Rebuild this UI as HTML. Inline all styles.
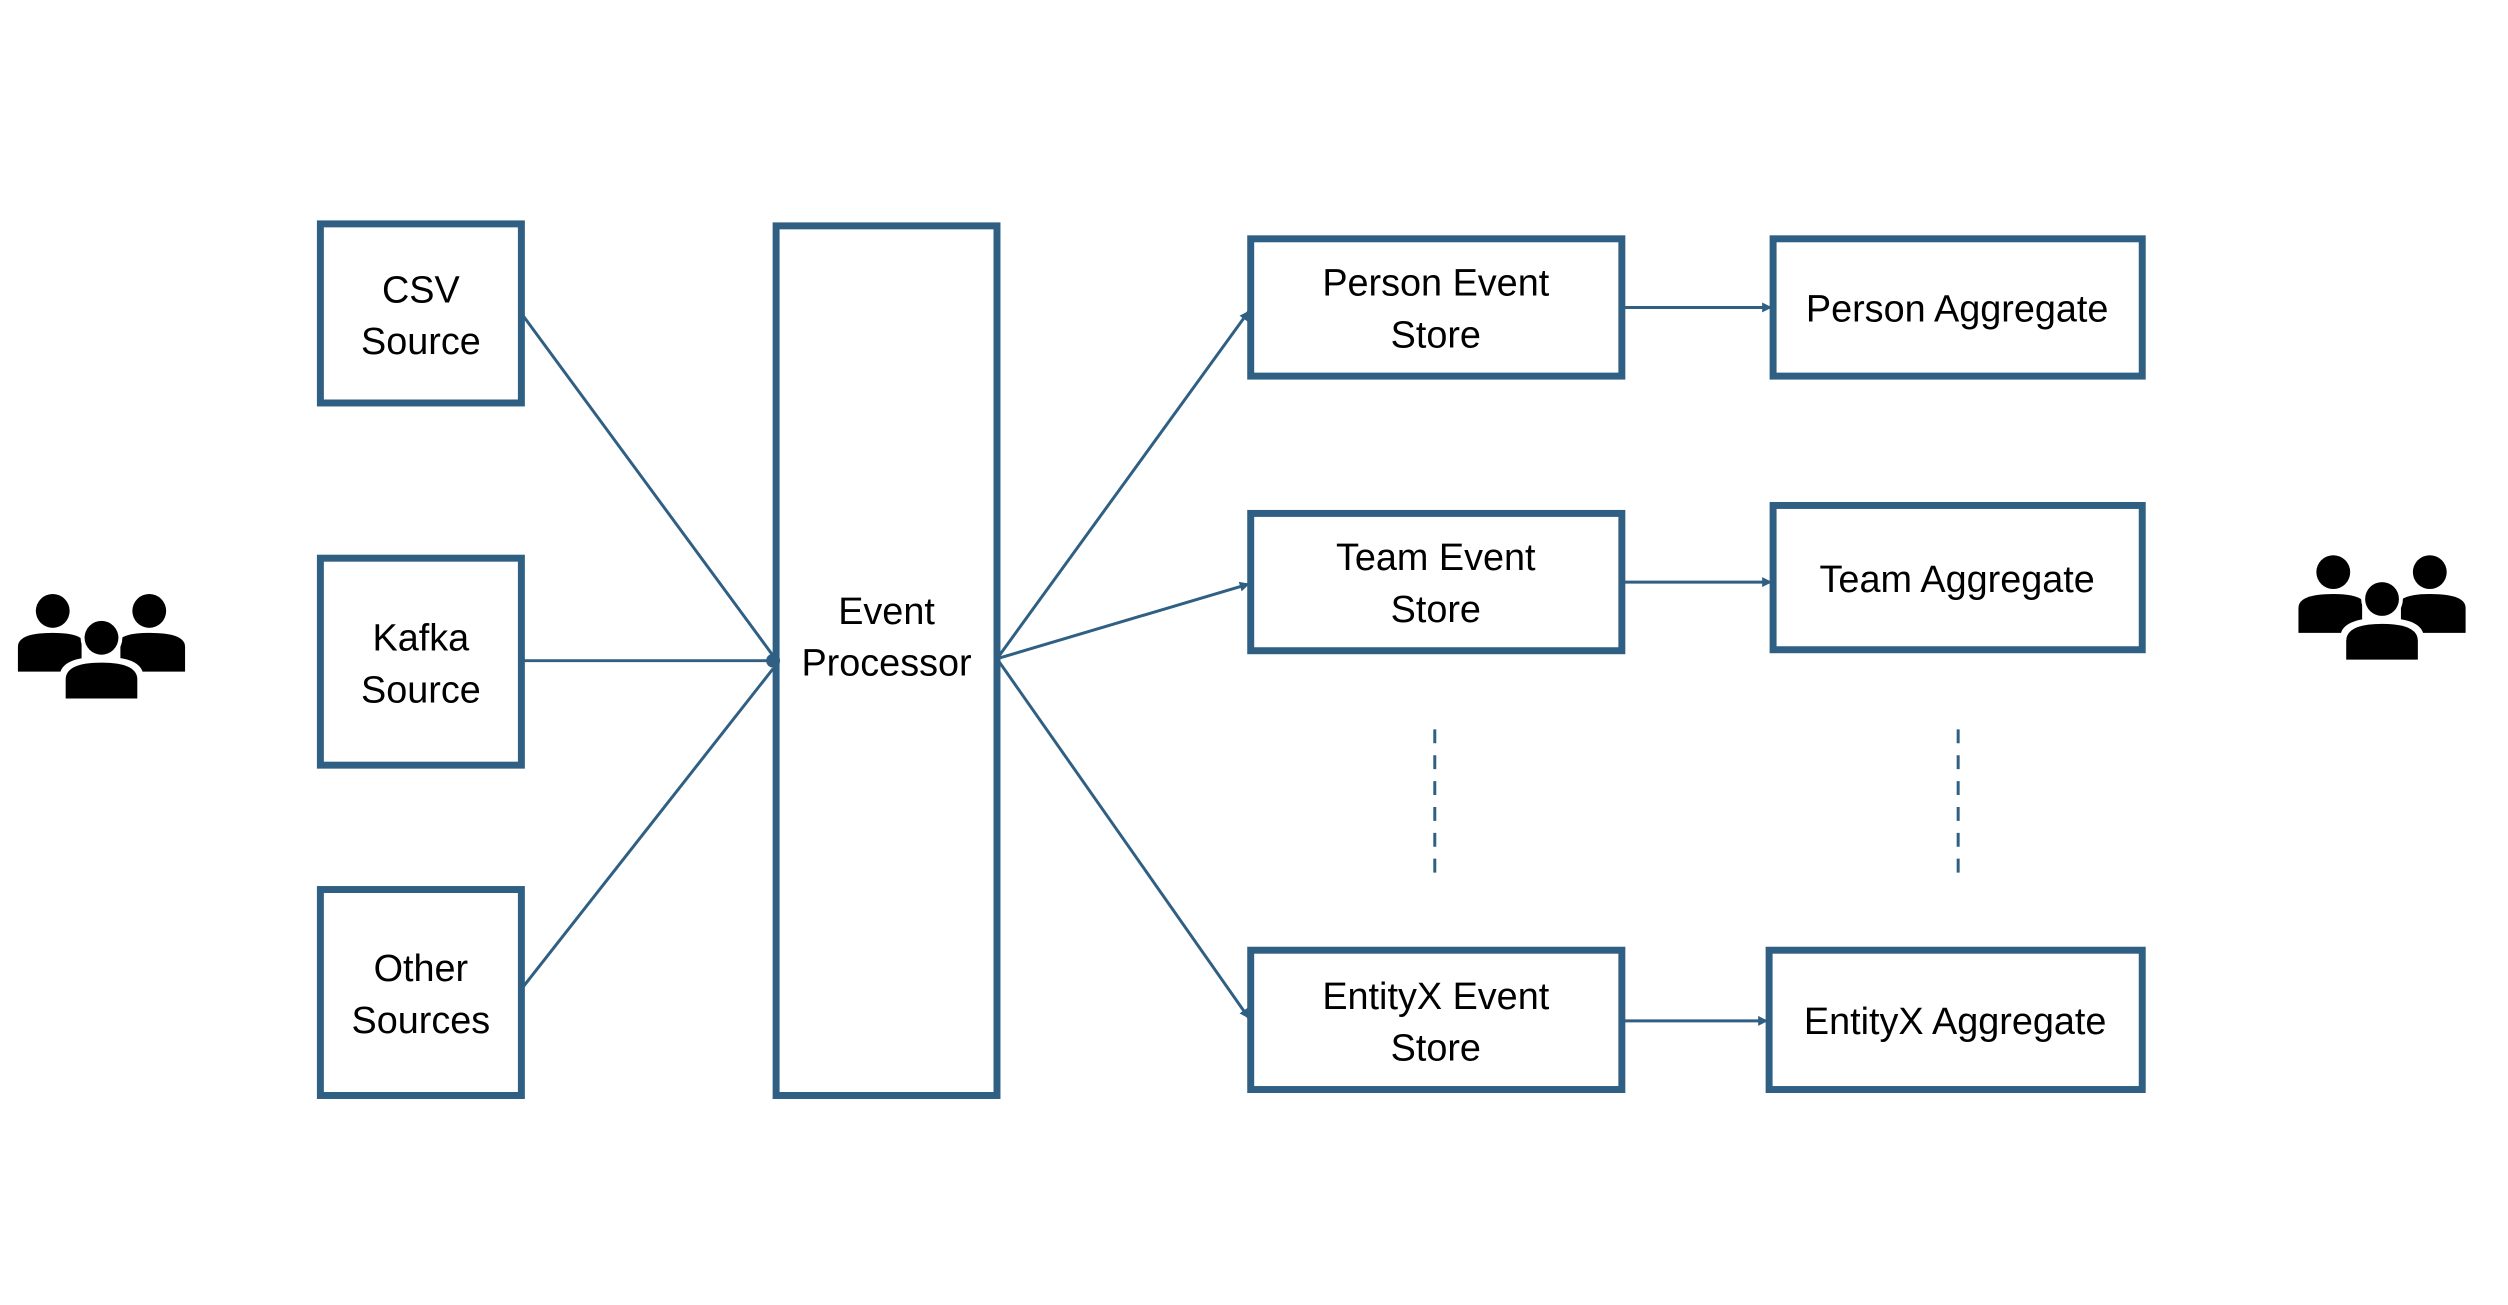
<!DOCTYPE html>
<html><head><meta charset="utf-8"><style>
html,body{margin:0;padding:0;background:#fff;}
body{width:2508px;height:1300px;overflow:hidden;}
text{font-family:"Liberation Sans","NanumGothic",sans-serif;font-size:38px;fill:#000;text-anchor:middle;}
</style></head><body>
<svg width="2508" height="1300" viewBox="0 0 2508 1300" xmlns="http://www.w3.org/2000/svg">
<defs>
<marker id="a" markerWidth="10" markerHeight="10" refX="9" refY="5" orient="auto" markerUnits="userSpaceOnUse" viewBox="0 0 10 10">
<path d="M0,0 L10,5 L0,10 z" fill="#2f5f83"/></marker>
<g id="ppl">
<circle cx="53" cy="614" r="17"/>
<circle cx="150" cy="614" r="17"/>
<path d="M18,650 Q18,636 53,636 Q75,636 82,642 L82,675 L18,675 Z"/>
<path d="M186,650 Q186,636 150,636 Q128,636 121,642 L121,675 L186,675 Z"/>
<circle cx="102" cy="641" r="21" fill="#fff"/>
<circle cx="102" cy="641" r="17"/>
<path d="M60,700 L60,680 Q60,660 102,660 Q144,660 144,680 L144,700 Z" fill="#fff"/>
<path d="M66,702 L66,683 Q66,666 102,666 Q138,666 138,683 L138,702 Z"/>
</g>
</defs>
<g transform="scale(0.995)">
<use href="#ppl"/>
<use href="#ppl" transform="translate(2292,-39)"/>
<g fill="none" stroke="#2f5f83" stroke-width="7">
<rect x="322" y="225" width="202" height="180"/>
<rect x="322" y="561" width="202" height="208"/>
<rect x="322" y="894" width="202" height="207"/>
<rect x="780" y="227" width="222" height="874"/>
<rect x="1257" y="240" width="373" height="138"/>
<rect x="1257" y="516" width="373" height="138"/>
<rect x="1257" y="955" width="373" height="140"/>
<rect x="1782" y="240" width="371" height="138"/>
<rect x="1782" y="508" width="371" height="145"/>
<rect x="1778" y="955" width="375" height="140"/>
</g>
<g fill="none" stroke="#2f5f83" stroke-width="3">
<line x1="524" y1="315" x2="777" y2="659"/>
<line x1="524" y1="664" x2="777" y2="664"/>
<line x1="524" y1="994" x2="777" y2="672"/>
<line x1="1002" y1="662" x2="1255" y2="313" marker-end="url(#a)"/>
<line x1="1002" y1="662" x2="1255" y2="587" marker-end="url(#a)"/>
<line x1="1002" y1="662" x2="1255" y2="1023" marker-end="url(#a)"/>
<line x1="1630" y1="309" x2="1780" y2="309" marker-end="url(#a)"/>
<line x1="1630" y1="585" x2="1780" y2="585" marker-end="url(#a)"/>
<line x1="1630" y1="1026" x2="1776" y2="1026" marker-end="url(#a)"/>
<line x1="1442" y1="733" x2="1442" y2="889" stroke-dasharray="14,12"/>
<line x1="1968" y1="733" x2="1968" y2="889" stroke-dasharray="14,12"/>
</g>
<circle cx="777" cy="664" r="7" fill="#2f5f83"/>
<text x="423" y="304">CSV</text><text x="423" y="356">Source</text>
<text x="423" y="654">Kafka</text><text x="423" y="706">Source</text>
<text x="423" y="986">Other</text><text x="423" y="1038">Sources</text>
<text x="891" y="627">Event</text><text x="891" y="679">Processor</text>
<text x="1443" y="297">Person Event</text><text x="1443" y="349">Store</text>
<text x="1443" y="573">Team Event</text><text x="1443" y="625">Store</text>
<text x="1443" y="1014">EntityX Event</text><text x="1443" y="1066">Store</text>
<text x="1967" y="323">Person Aggregate</text>
<text x="1967" y="595">Team Aggregate</text>
<text x="1965" y="1039">EntityX Aggregate</text>
</g>
</svg>
</body></html>
